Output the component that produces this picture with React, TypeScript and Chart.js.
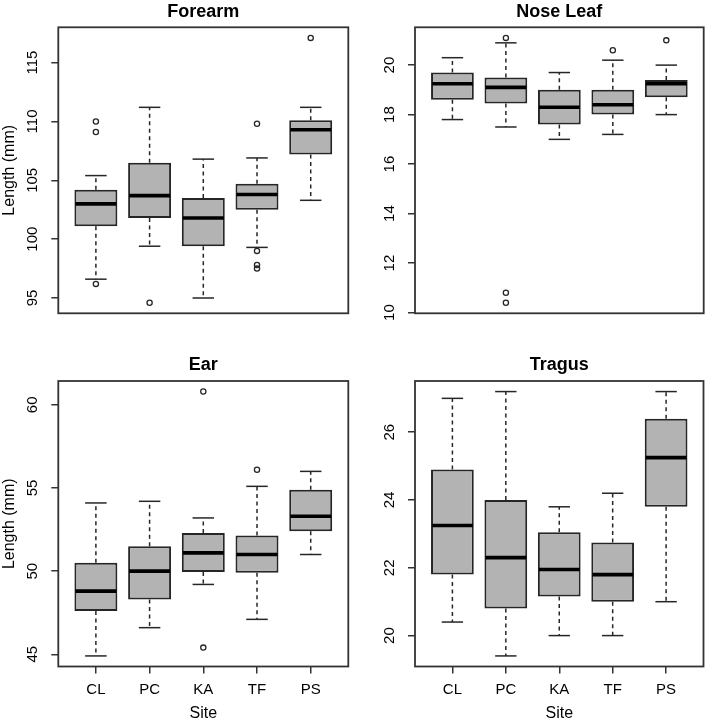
import React, { useEffect, useRef } from 'react';
import { Chart, registerables } from 'chart.js';

Chart.register(...registerables);

const FONT = 'Liberation Sans, Arial, Helvetica, sans-serif';

// ---------- data ----------
const sites = ['CL', 'PC', 'KA', 'TF', 'PS'];

const forearmLow = [96.6, 99.4, 95.0, 99.3, 103.3];
const forearmQ1 = [101.1, 101.8, 99.4, 102.5, 107.2];
const forearmMed = [103.0, 103.7, 101.8, 103.8, 109.3];
const forearmQ3 = [104.2, 106.5, 103.5, 104.7, 110.1];
const forearmHigh = [105.4, 111.2, 106.8, 106.9, 111.2];
const forearmOut = [[110.0, 109.1, 96.2], [94.6], [], [109.8, 99.0, 97.8, 97.5], [117.1]];
const forearmTicks = [95, 100, 105, 110, 115];

const noseLow = [17.8, 17.5, 17.0, 17.2, 18.0];
const noseQ1 = [18.6, 18.45, 17.6, 18.0, 18.7];
const noseMed = [19.25, 19.1, 18.3, 18.4, 19.25];
const noseQ3 = [19.7, 19.5, 19.0, 19.0, 19.4];
const noseHigh = [20.3, 20.9, 19.7, 20.2, 20.0];
const noseOut = [[], [21.1, 10.8, 10.4], [], [20.6], [21.0]];
const noseTicks = [10, 12, 14, 16, 18, 20];

const earLow = [44.9, 46.6, 49.2, 47.1, 51.0];
const earQ1 = [47.6, 48.3, 49.95, 49.9, 52.4];
const earMed = [48.8, 50.0, 51.1, 51.0, 53.3];
const earQ3 = [50.5, 51.5, 52.3, 52.15, 54.9];
const earHigh = [54.1, 54.2, 53.2, 55.1, 56.0];
const earOut = [[], [], [60.8, 45.4], [56.1], []];
const earTicks = [45, 50, 55, 60];

const tragusLow = [20.4, 19.4, 20.0, 20.0, 21.0];
const tragusQ1 = [21.8, 20.8, 21.15, 21.0, 23.8];
const tragusMed = [23.25, 22.3, 21.95, 21.8, 25.25];
const tragusQ3 = [24.9, 24.0, 23.05, 22.75, 26.4];
const tragusHigh = [27.0, 27.2, 23.8, 24.2, 27.2];
const tragusOut = [[], [], [], [], []];
const tragusTicks = [20, 22, 24, 26];

// ---------- panels ----------
type Panel = {
  title: string;
  low: number[]; q1: number[]; med: number[]; q3: number[]; high: number[];
  out: number[][]; ticks: number[];
  yTitle: string | null; showX: boolean;
  left: number; top: number; w: number; h: number;
  yWidth: number; padRight: number; padBottom: number; xHeight: number;
  titlePad: { top: number; bottom: number }; tickPad: number;
};

const panels: Panel[] = [
  {
    title: 'Forearm', low: forearmLow, q1: forearmQ1, med: forearmMed, q3: forearmQ3, high: forearmHigh,
    out: forearmOut, ticks: forearmTicks, yTitle: 'Length (mm)', showX: false,
    left: 0, top: 0, w: 354, h: 340, yWidth: 58.3, padRight: 5.7, padBottom: 26.7, xHeight: 0,
    titlePad: { top: 1.5, bottom: 4.2 }, tickPad: 6.3,
  },
  {
    title: 'Nose Leaf', low: noseLow, q1: noseQ1, med: noseMed, q3: noseQ3, high: noseHigh,
    out: noseOut, ticks: noseTicks, yTitle: null, showX: false,
    left: 354, top: 0, w: 355, h: 340, yWidth: 61, padRight: 5, padBottom: 26.7, xHeight: 0,
    titlePad: { top: 1.5, bottom: 4.2 }, tickPad: 9.7,
  },
  {
    title: 'Ear', low: earLow, q1: earQ1, med: earMed, q3: earQ3, high: earHigh,
    out: earOut, ticks: earTicks, yTitle: 'Length (mm)', showX: true,
    left: 0, top: 340, w: 354, h: 385, yWidth: 58.3, padRight: 5.7, padBottom: 0, xHeight: 58.5,
    titlePad: { top: 14.2, bottom: 5.2 }, tickPad: 9.7,
  },
  {
    title: 'Tragus', low: tragusLow, q1: tragusQ1, med: tragusMed, q3: tragusQ3, high: tragusHigh,
    out: tragusOut, ticks: tragusTicks, yTitle: null, showX: true,
    left: 354, top: 340, w: 355, h: 385, yWidth: 61, padRight: 5.5, padBottom: 0, xHeight: 58.5,
    titlePad: { top: 14.2, bottom: 5.2 }, tickPad: 9.7,
  },
];

const INK = '#262626';

function boxPlugin(p: Panel) {
  const line = (ctx: CanvasRenderingContext2D, x1: number, y1: number, x2: number, y2: number) => {
    ctx.beginPath();
    ctx.moveTo(x1, y1);
    ctx.lineTo(x2, y2);
    ctx.stroke();
  };
  return {
    id: 'boxWhisker',
    beforeDatasetsDraw(chart: any) {
      const { ctx } = chart;
      const y = chart.scales.y;
      const meta = chart.getDatasetMeta(0);
      ctx.save();
      ctx.strokeStyle = INK;
      ctx.lineWidth = 1.5;
      meta.data.forEach((bar: any, i: number) => {
        const cx = bar.x;
        const hw = bar.width / 4;
        const yHi = y.getPixelForValue(p.high[i]);
        const yLo = y.getPixelForValue(p.low[i]);
        ctx.setLineDash([4, 3.5]);
        line(ctx, cx, y.getPixelForValue(p.q3[i]), cx, yHi);
        line(ctx, cx, y.getPixelForValue(p.q1[i]), cx, yLo);
        ctx.setLineDash([]);
        line(ctx, cx - hw, yHi, cx + hw, yHi);
        line(ctx, cx - hw, yLo, cx + hw, yLo);
      });
      ctx.restore();
    },
    afterDatasetsDraw(chart: any) {
      const { ctx } = chart;
      const y = chart.scales.y;
      const meta = chart.getDatasetMeta(0);
      ctx.save();
      ctx.strokeStyle = '#000';
      ctx.lineWidth = 3.6;
      meta.data.forEach((bar: any, i: number) => {
        const ym = y.getPixelForValue(p.med[i]);
        line(ctx, bar.x - bar.width / 2 + 1, ym, bar.x + bar.width / 2 - 1, ym);
      });
      ctx.restore();
    },
    afterDraw(chart: any) {
      const { ctx, chartArea: a } = chart;
      ctx.save();
      ctx.strokeStyle = '#333';
      ctx.lineWidth = 1.8;
      ctx.strokeRect(a.left, a.top, a.right - a.left, a.bottom - a.top);
      ctx.restore();
    },
  };
}

function buildConfig(p: Panel): any {
  const all = [...p.low, ...p.high, ...p.out.flat()];
  const lo = Math.min(...all);
  const hi = Math.max(...all);
  const ext = (hi - lo) * 0.04;
  const boxes = sites.map((_, i) => ({ x: i, y: [p.q1[i], p.q3[i]] }));
  const outliers = p.out.flatMap((arr, i) => arr.map((v) => ({ x: i, y: v })));
  return {
    type: 'bar',
    data: {
      datasets: [
        {
          type: 'bar',
          data: boxes,
          backgroundColor: '#b3b3b3',
          borderColor: INK,
          borderWidth: 2,
          borderSkipped: false,
          barPercentage: 0.8,
          categoryPercentage: 1,
        },
        {
          type: 'scatter',
          data: outliers,
          pointStyle: 'circle',
          pointRadius: 2.6,
          pointBorderWidth: 1.3,
          pointBorderColor: INK,
          pointBackgroundColor: 'rgba(0,0,0,0)',
          showLine: false,
        },
      ],
    },
    options: {
      responsive: false,
      maintainAspectRatio: false,
      animation: false,
      devicePixelRatio: 1,
      layout: { padding: { left: 0, top: 0, right: p.padRight, bottom: p.padBottom } },
      plugins: {
        legend: { display: false },
        tooltip: { enabled: false },
        title: {
          display: true,
          text: p.title,
          fullSize: false,
          color: '#000',
          font: { family: FONT, size: 18, weight: 'bold', lineHeight: 1.2 },
          padding: p.titlePad,
        },
      },
      scales: {
        x: {
          type: 'linear',
          display: p.showX,
          min: -0.7,
          max: 4.7,
          offset: false,
          afterBuildTicks: (sc: any) => {
            sc.ticks = sites.map((_, i) => ({ value: i }));
          },
          afterFit: (sc: any) => {
            sc.height = p.xHeight;
          },
          ticks: {
            autoSkip: false,
            minRotation: 0,
            maxRotation: 0,
            padding: 7,
            color: '#000',
            font: { family: FONT, size: 15, lineHeight: 1.2 },
            callback: (v: number) => sites[v],
          },
          grid: { offset: false, drawOnChartArea: false, drawTicks: true, tickLength: 7, color: '#333', lineWidth: 1.5 },
          border: { display: false },
          title: {
            display: true,
            text: 'Site',
            color: '#000',
            font: { family: FONT, size: 16, lineHeight: 1.2 },
            padding: { top: 0, bottom: 1.9 },
          },
        },
        y: {
          type: 'linear',
          min: lo - ext,
          max: hi + ext,
          beginAtZero: false,
          afterBuildTicks: (sc: any) => {
            sc.ticks = p.ticks.map((v) => ({ value: v }));
          },
          afterFit: (sc: any) => {
            sc.width = p.yWidth;
          },
          ticks: {
            autoSkip: false,
            minRotation: 90,
            maxRotation: 90,
            crossAlign: 'center',
            padding: p.tickPad,
            color: '#000',
            font: { family: FONT, size: 15, lineHeight: 1.2 },
            callback: (v: number) => String(v),
          },
          grid: { drawOnChartArea: false, drawTicks: true, tickLength: 7, color: '#333', lineWidth: 1.5 },
          border: { display: false },
          title: {
            display: !!p.yTitle,
            text: p.yTitle || '',
            color: '#000',
            font: { family: FONT, size: 16, lineHeight: 1.2 },
            padding: { top: 0.4, bottom: 0 },
          },
        },
      },
    },
    plugins: [boxPlugin(p)],
  };
}

function PanelChart({ p }: { p: Panel }) {
  const ref = useRef<HTMLCanvasElement>(null);
  useEffect(() => {
    const chart = new Chart(ref.current as HTMLCanvasElement, buildConfig(p));
    return () => chart.destroy();
  }, [p]);
  return (
    <canvas
      ref={ref}
      width={p.w}
      height={p.h}
      style={{ position: 'absolute', left: p.left, top: p.top, width: p.w, height: p.h, display: 'block' }}
    />
  );
}

export default function App() {
  return (
    <div style={{ position: 'absolute', left: 0, top: 0, width: 709, height: 725, background: '#fff', overflow: 'hidden' }}>
      {panels.map((p) => (
        <PanelChart key={p.title} p={p} />
      ))}
    </div>
  );
}
